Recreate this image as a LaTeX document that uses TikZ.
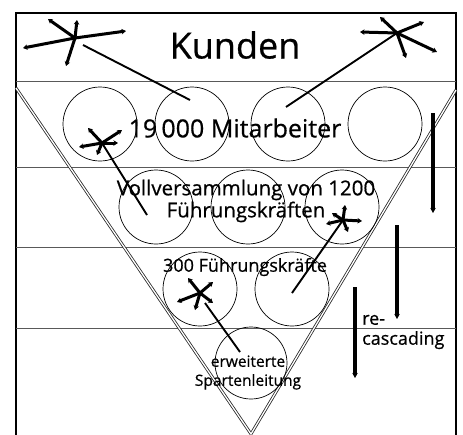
\documentclass[tikz,border=0pt]{standalone}
\usepackage{fontspec}
\setmainfont{Open Sans}[BoldFont={Open Sans}, BoldFeatures={FakeBold=0.6}]
\usetikzlibrary{arrows.meta}
\begin{document}
\begin{tikzpicture}[x=1pt,y=-1pt,
  frame/.style={line width=1.7pt},
  sep/.style={line width=1pt, black!65},
  vee/.style={line width=0.8pt, black!85, double=white, double distance=1.3pt},
  ring/.style={circle, draw, line width=0.7pt, minimum size=74pt, inner sep=0pt},
  ray/.style={line width=3pt, -{Stealth[length=4.5pt,width=5.5pt]}},
  link/.style={line width=1.9pt},
  cascade/.style={line width=3.4pt, -{Stealth[length=5pt,width=5.5pt]}},
  lbl/.style={inner sep=0pt, align=center, font=\bfseries}]
\useasboundingbox (0,0) rectangle (463,434);
% frame and bands
\draw[frame] (16,440) -- (16,13) -- (456,13) -- (456,440);
\foreach \y in {81,167,247,328} \draw[sep] (16,\y) -- (456,\y);
% funnel
\coordinate (L) at (16,88);
\coordinate (A) at (251,434);
\coordinate (R) at (456,90);
\draw[vee] (L) -- (A) -- (R);
% circles
\node[ring] (c11) at (100,124) {};
\node[ring] (c12) at (192,124) {};
\node[ring] (c13) at (288,124) {};
\node[ring] (c14) at (385,124) {};
\node[ring] (c21) at (156,207) {};
\node[ring] (c22) at (248,207) {};
\node[ring] (c23) at (342,207) {};
\node[ring] (c31) at (200,289) {};
\node[ring] (c32) at (292,289) {};
\node[ring, minimum size=72pt] (c41) at (251,363) {};
% texts
\node[lbl, font=\bfseries\fontsize{36}{40}\selectfont] (kunden) at (235,45) {Kunden};
\node[lbl, font=\bfseries\fontsize{25}{28}\selectfont] (t1) at (235,128) {19\,000 Mitarbeiter};
\node[lbl, font=\bfseries\fontsize{20.5}{22}\selectfont] (t2) at (246,201) {Vollversammlung von 1200\\Führungskräften};
\node[lbl, font=\bfseries\fontsize{18}{20}\selectfont] (t3) at (245,267) {300 Führungskräfte};
\node[lbl, font=\bfseries\fontsize{15.5}{19}\selectfont] (t4) at (248,372.5) {erweiterte\\Spartenleitung};
\node[lbl, font=\bfseries\fontsize{18}{20}\selectfont, align=left, anchor=west] (t5) at (362,332) {re-\\cascading};
% stars
\coordinate (s1) at (75,38);
\foreach \p in {(48,19),(77,20),(126,31),(23,48),(66,66)} \draw[ray] (s1) -- \p;
\coordinate (s2) at (397,33);
\foreach \p in {(380,17),(424,22),(437,52),(406,58),(360,32)} \draw[ray] (s2) -- \p;
\coordinate (s3) at (102,143);
\foreach \p in {(88,128),(122,130),(118,143),(79,147),(97,155)} \draw[ray] (s3) -- \p;
\coordinate (s4) at (343,220);
\foreach \p in {(345,205),(362,221),(348,232),(332,213),(326,224)} \draw[ray] (s4) -- \p;
\coordinate (s5) at (200,293);
\foreach \p in {(188,278),(213,282),(213,303),(195,310),(177,302)} \draw[ray] (s5) -- \p;
% links
\coordinate (l1a) at (83,45);  \coordinate (l1b) at (190,100);
\draw[link] (l1a) -- (l1b);
\coordinate (l2b) at (286,107);
\draw[link] (s2) -- (l2b);
\coordinate (l3b) at (147,215);
\draw[link] (s3) -- (l3b);
\coordinate (l4b) at (292,293);
\draw[link] (s4) -- (l4b);
\coordinate (l5a) at (205,303); \coordinate (l5b) at (240,352);
\draw[link] (l5a) -- (l5b);
% re-cascading arrows
\coordinate (k1a) at (433,113); \coordinate (k1b) at (433,213);
\coordinate (k2a) at (397,225); \coordinate (k2b) at (397,319);
\coordinate (k3a) at (355,287); \coordinate (k3b) at (355,378);
\draw[cascade] (k1a) -- (k1b);
\draw[cascade] (k2a) -- (k2b);
\draw[cascade] (k3a) -- (k3b);
\end{tikzpicture}
\end{document}
